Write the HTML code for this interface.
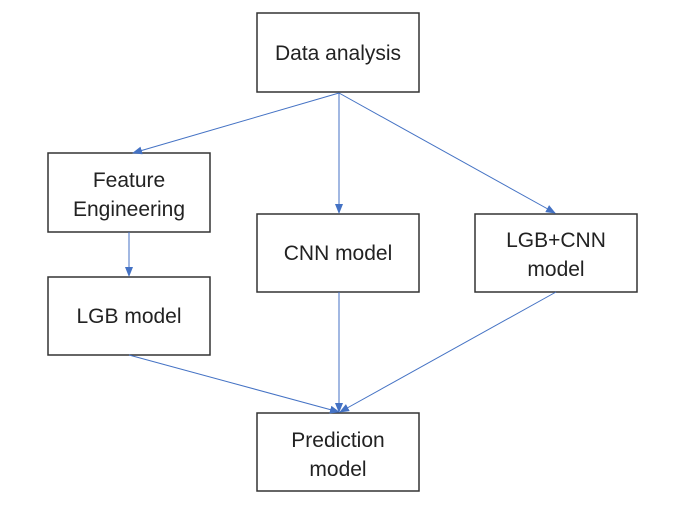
<!DOCTYPE html>
<html><head><meta charset="utf-8"><style>
body{margin:0;background:#fff;}
svg text{font-family:"Liberation Sans",sans-serif;font-size:21px;fill:#222;text-anchor:middle;}
</style></head><body>
<svg width="693" height="508" xmlns="http://www.w3.org/2000/svg">
<defs><marker id="a" markerWidth="10" markerHeight="8" refX="9" refY="4" orient="auto" markerUnits="userSpaceOnUse"><path d="M0,0 L10,4 L0,8 z" fill="#4472C4"/></marker></defs>
<g fill="#fff" stroke="#333" stroke-width="1.5">
<rect x="257" y="13" width="162" height="79"/>
<rect x="48" y="153" width="162" height="79"/>
<rect x="48" y="277" width="162" height="78"/>
<rect x="257" y="214" width="162" height="78"/>
<rect x="475" y="214" width="162" height="78"/>
<rect x="257" y="413" width="162" height="78"/>
</g>
<g stroke="#4472C4" stroke-width="1" marker-end="url(#a)">
<line x1="339" y1="93" x2="133" y2="153"/>
<line x1="339" y1="93" x2="339" y2="213"/>
<line x1="339" y1="93" x2="555" y2="213"/>
<line x1="129" y1="232" x2="129" y2="276"/>
<line x1="129" y1="355" x2="339" y2="412"/>
<line x1="339" y1="292" x2="339" y2="412"/>
<line x1="556" y1="292" x2="340" y2="412"/>
</g>
<text x="338" y="60">Data analysis</text>
<text x="129" y="187">Feature</text>
<text x="129" y="216">Engineering</text>
<text x="129" y="323">LGB model</text>
<text x="338" y="260">CNN model</text>
<text x="556" y="247">LGB+CNN</text>
<text x="556" y="276">model</text>
<text x="338" y="447">Prediction</text>
<text x="338" y="476">model</text>
</svg>
</body></html>
